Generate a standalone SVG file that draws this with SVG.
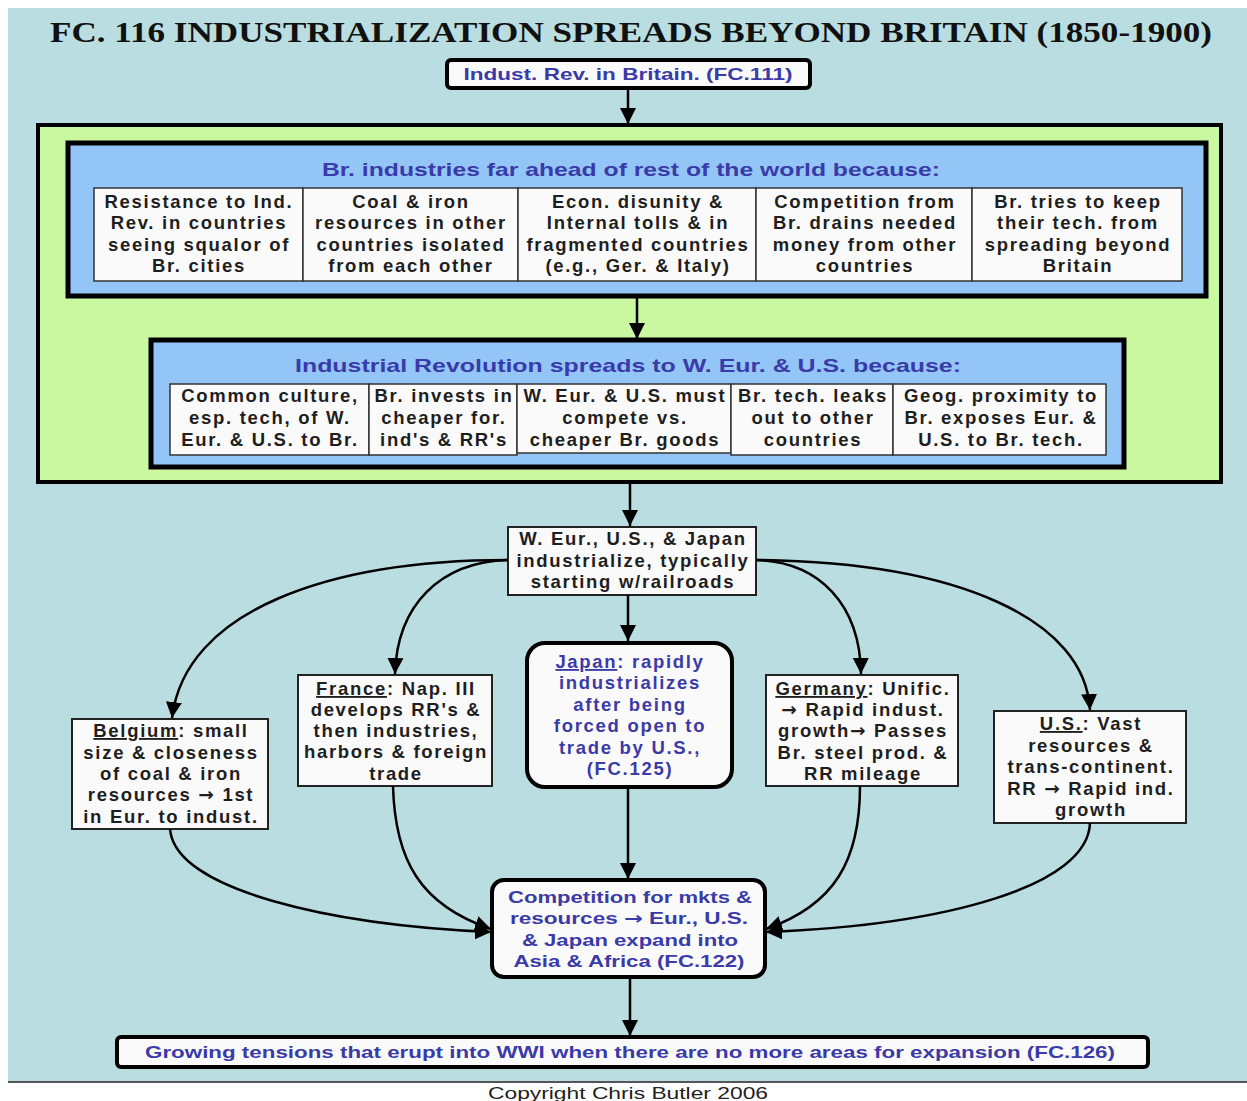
<svg xmlns="http://www.w3.org/2000/svg" width="1247" height="1101" viewBox="0 0 1247 1101">
<defs>
<marker id="ah" viewBox="0 0 16 16" refX="16" refY="8" markerWidth="16" markerHeight="18" markerUnits="userSpaceOnUse" orient="auto">
<path d="M0,0 L16,8 L0,16 z" fill="#000"/>
</marker>
</defs>
<style>
.t{font-family:"Liberation Sans",Arial,sans-serif;font-weight:bold;font-size:18.5px;letter-spacing:1.7px;fill:#1e1e1e;text-anchor:middle}
.b{fill:#3a3aa8}
.bt{font-family:"Liberation Sans",Arial,sans-serif;font-weight:bold;font-size:19px;fill:#3a3aa8;text-anchor:middle}
.nar{font-family:"Liberation Sans",Arial,sans-serif;font-weight:bold;font-size:17px;fill:#3a3aa8;text-anchor:middle}
.ar{font-family:"DejaVu Sans",sans-serif;font-weight:bold}
.cell{fill:#fafafa;stroke:#333;stroke-width:1.5}
.node{fill:#fafafa;stroke:#222;stroke-width:2}
.thick{fill:#fafafa;stroke:#000;stroke-width:4}
.conn path,.conn line{fill:none;stroke:#000;stroke-width:2.5;marker-end:url(#ah)}
.u{text-decoration:underline}
</style>
<rect x="0" y="0" width="1247" height="1101" fill="#fff"/>
<rect x="8" y="8" width="1239" height="1073" fill="#b9dde0"/>
<line x1="8" y1="1082" x2="1247" y2="1082" stroke="#555" stroke-width="2"/>
<text x="631" y="42" font-family="Liberation Serif,Times New Roman,serif" font-weight="bold" font-size="29" text-anchor="middle" textLength="1162" lengthAdjust="spacingAndGlyphs" fill="#111">FC. 116 INDUSTRIALIZATION SPREADS BEYOND BRITAIN (1850-1900)</text>

<g id="green-frame">
<rect x="38" y="125" width="1183" height="357" fill="#c9f8a0" stroke="#000" stroke-width="4"/>
</g>

<g id="top">
<rect x="447" y="60" width="363" height="28" rx="4" class="thick" stroke-width="3.5"/>
<text x="628" y="80" class="nar" textLength="329" lengthAdjust="spacingAndGlyphs">Indust. Rev. in Britain. (FC.111)</text>
</g>

<g id="group1">
<rect x="68" y="143" width="1138" height="153" fill="#93c6f7" stroke="#000" stroke-width="5"/>
<text x="631" y="176" class="bt" textLength="618" lengthAdjust="spacingAndGlyphs">Br. industries far ahead of rest of the world because:</text>
<rect x="94" y="188" width="209" height="93" class="cell"/>
<rect x="303" y="188" width="215" height="93" class="cell"/>
<rect x="518" y="188" width="238" height="93" class="cell"/>
<rect x="756" y="188" width="216" height="93" class="cell"/>
<rect x="972" y="188" width="210" height="93" class="cell"/>
<text class="t"><tspan x="199" y="208">Resistance to Ind.</tspan><tspan x="199" y="229">Rev. in countries</tspan><tspan x="199" y="251">seeing squalor of</tspan><tspan x="199" y="272">Br. cities</tspan></text>
<text class="t"><tspan x="411" y="208">Coal &amp; iron</tspan><tspan x="411" y="229">resources in other</tspan><tspan x="411" y="251">countries isolated</tspan><tspan x="411" y="272">from each other</tspan></text>
<text class="t"><tspan x="638" y="208">Econ. disunity &amp;</tspan><tspan x="638" y="229">Internal tolls &amp; in</tspan><tspan x="638" y="251">fragmented countries</tspan><tspan x="638" y="272">(e.g., Ger. &amp; Italy)</tspan></text>
<text class="t"><tspan x="865" y="208">Competition from</tspan><tspan x="865" y="229">Br. drains needed</tspan><tspan x="865" y="251">money from other</tspan><tspan x="865" y="272">countries</tspan></text>
<text class="t"><tspan x="1078" y="208">Br. tries to keep</tspan><tspan x="1078" y="229">their tech. from</tspan><tspan x="1078" y="251">spreading beyond</tspan><tspan x="1078" y="272">Britain</tspan></text>
</g>

<g id="group2">
<rect x="151" y="340" width="973" height="127" fill="#93c6f7" stroke="#000" stroke-width="5"/>
<text x="628" y="372" class="bt" textLength="666" lengthAdjust="spacingAndGlyphs">Industrial Revolution spreads to W. Eur. &amp; U.S. because:</text>
<rect x="170" y="384" width="199" height="71" class="cell"/>
<rect x="369" y="384" width="148" height="71" class="cell"/>
<rect x="517" y="384" width="214" height="69" class="cell"/>
<rect x="731" y="384" width="162" height="71" class="cell"/>
<rect x="893" y="384" width="213" height="71" class="cell"/>
<text class="t"><tspan x="270" y="402">Common culture,</tspan><tspan x="270" y="424">esp. tech,  of W.</tspan><tspan x="270" y="446">Eur. &amp; U.S. to Br.</tspan></text>
<text class="t"><tspan x="444" y="402">Br. invests in</tspan><tspan x="444" y="424">cheaper for.</tspan><tspan x="444" y="446">ind's &amp; RR's</tspan></text>
<text class="t"><tspan x="625" y="402">W. Eur. &amp; U.S. must</tspan><tspan x="625" y="424">compete vs.</tspan><tspan x="625" y="446">cheaper Br. goods</tspan></text>
<text class="t"><tspan x="813" y="402">Br. tech. leaks</tspan><tspan x="813" y="424">out to other</tspan><tspan x="813" y="446">countries</tspan></text>
<text class="t"><tspan x="1001" y="402">Geog. proximity to</tspan><tspan x="1001" y="424">Br. exposes Eur. &amp;</tspan><tspan x="1001" y="446">U.S. to Br. tech.</tspan></text>
</g>

<g id="weur">
<rect x="508" y="527" width="248" height="68" class="node"/>
<text class="t"><tspan x="633" y="545">W. Eur., U.S., &amp; Japan</tspan><tspan x="633" y="567">industrialize, typically</tspan><tspan x="633" y="588">starting w/railroads</tspan></text>
</g>

<g id="belgium">
<rect x="72" y="719" width="196" height="110" class="node"/>
<text class="t"><tspan x="171" y="737"><tspan class="u">Belgium</tspan>: small</tspan><tspan x="171" y="759">size &amp; closeness</tspan><tspan x="171" y="780">of coal &amp; iron</tspan><tspan x="171" y="801">resources <tspan class="ar">→</tspan> 1st</tspan><tspan x="171" y="823">in Eur. to indust.</tspan></text>
</g>

<g id="france">
<rect x="298" y="675" width="194" height="111" class="node"/>
<text class="t"><tspan x="396" y="695"><tspan class="u">France</tspan>: Nap. III</tspan><tspan x="396" y="716">develops RR's &amp;</tspan><tspan x="396" y="737">then industries,</tspan><tspan x="396" y="758">harbors &amp; foreign</tspan><tspan x="396" y="780">trade</tspan></text>
</g>

<g id="japan">
<rect x="527" y="643" width="205" height="144" rx="18" class="thick"/>
<text class="t b"><tspan x="630" y="668"><tspan class="u">Japan</tspan>: rapidly</tspan><tspan x="630" y="689">industrializes</tspan><tspan x="630" y="711">after being</tspan><tspan x="630" y="732">forced open to</tspan><tspan x="630" y="754">trade by U.S.,</tspan><tspan x="630" y="775">(FC.125)</tspan></text>
</g>

<g id="germany">
<rect x="766" y="675" width="192" height="111" class="node"/>
<text class="t"><tspan x="863" y="695"><tspan class="u">Germany</tspan>: Unific.</tspan><tspan x="863" y="716"><tspan class="ar">→</tspan> Rapid indust.</tspan><tspan x="863" y="737">growth<tspan class="ar">→</tspan> Passes</tspan><tspan x="863" y="759">Br. steel prod. &amp;</tspan><tspan x="863" y="780">RR mileage</tspan></text>
</g>

<g id="us">
<rect x="994" y="711" width="192" height="112" class="node"/>
<text class="t"><tspan x="1091" y="730"><tspan class="u">U.S.</tspan>: Vast</tspan><tspan x="1091" y="752">resources &amp;</tspan><tspan x="1091" y="773">trans-continent.</tspan><tspan x="1091" y="795">RR <tspan class="ar">→</tspan> Rapid ind.</tspan><tspan x="1091" y="816">growth</tspan></text>
</g>

<g id="competition">
<rect x="492" y="880" width="273" height="97" rx="12" class="thick"/>
<text class="nar"><tspan x="630" y="903" textLength="244" lengthAdjust="spacingAndGlyphs">Competition for mkts &amp;</tspan><tspan x="629" y="924" textLength="238" lengthAdjust="spacingAndGlyphs">resources <tspan class="ar">→</tspan> Eur., U.S.</tspan><tspan x="630" y="946" textLength="216" lengthAdjust="spacingAndGlyphs">&amp; Japan expand into</tspan><tspan x="629" y="967" textLength="231" lengthAdjust="spacingAndGlyphs">Asia &amp; Africa (FC.122)</tspan></text>
</g>

<g id="tensions">
<rect x="117" y="1037" width="1031" height="30" rx="4" class="thick"/>
<text x="630" y="1058" class="nar" textLength="970" lengthAdjust="spacingAndGlyphs">Growing tensions that erupt into WWI when there are no more areas for expansion (FC.126)</text>
</g>

<g id="connectors" class="conn">
<line x1="628" y1="88" x2="628" y2="124"/>
<line x1="637" y1="296" x2="637" y2="339"/>
<line x1="630" y1="482" x2="630" y2="526"/>
<line x1="628" y1="595" x2="628" y2="641"/>
<line x1="628" y1="787" x2="628" y2="879"/>
<line x1="630" y1="977" x2="630" y2="1036"/>
<path d="M508,560 C330,560 185,610 172,718"/>
<path d="M508,560 C440,562 397,605 395,674"/>
<path d="M756,560 C820,562 860,605 861,674"/>
<path d="M756,560 C960,562 1085,620 1090,710"/>
<path d="M170,829 C175,890 330,925 491,932"/>
<path d="M393,786 C395,860 420,905 491,929"/>
<path d="M860,786 C860,860 835,905 766,929"/>
<path d="M1090,823 C1088,885 950,925 766,932"/>
</g>

<text x="628" y="1099" font-family="Liberation Sans,Arial,sans-serif" font-size="16" fill="#222" text-anchor="middle" textLength="280" lengthAdjust="spacingAndGlyphs">Copyright Chris Butler 2006</text>
</svg>
